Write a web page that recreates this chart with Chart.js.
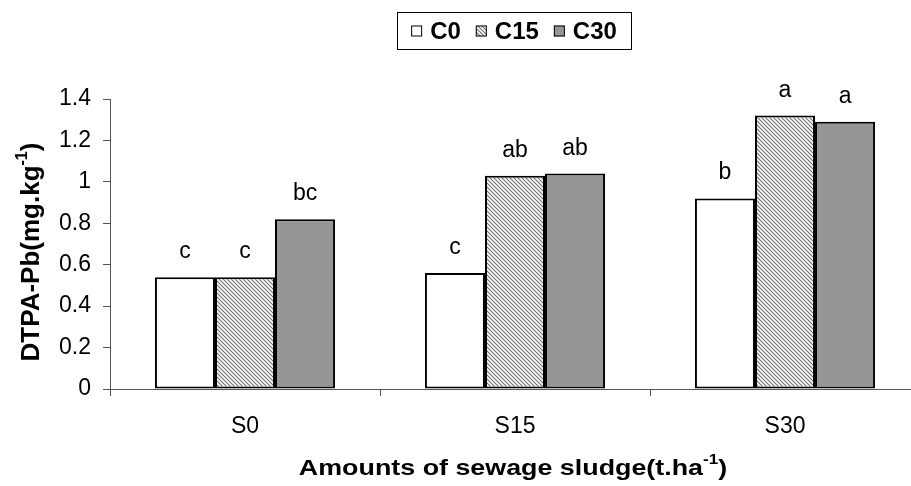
<!DOCTYPE html>
<html>
<head>
<meta charset="utf-8">
<script src="https://cdn.jsdelivr.net/npm/chart.js@4.4.1/dist/chart.umd.min.js"></script>
<style>
html,body{margin:0;padding:0;background:#fff;overflow:hidden;}
#wrap{position:relative;width:920px;height:486px;}
</style>
</head>
<body>
<div id="wrap"><canvas id="c" width="920" height="486"></canvas></div>
<script>
const categories = ['S0', 'S15', 'S30'];
const seriesNames = ['C0', 'C15', 'C30'];
const c0Values = [0.54, 0.56, 0.92];
const c15Values = [0.54, 1.03, 1.32];
const c30Values = [0.82, 1.04, 1.29];
const c0Letters = ['c', 'c', 'b'];
const c15Letters = ['c', 'ab', 'a'];
const c30Letters = ['bc', 'ab', 'a'];
const yTickLabels = ['0', '0.2', '0.4', '0.6', '0.8', '1', '1.2', '1.4'];
const yTitle = ['DTPA-Pb(mg.kg', '-1', ')'];
const xTitle = ['Amounts of sewage sludge(t.ha', '-1', ')'];

const FONT = '"Liberation Sans", Arial, sans-serif';

function hatch() {
  const s = 4;
  const cv = document.createElement('canvas');
  cv.width = s; cv.height = s;
  const g = cv.getContext('2d');
  g.fillStyle = '#ffffff';
  g.fillRect(0, 0, s, s);
  g.strokeStyle = '#707070';
  g.lineWidth = 1.1;
  g.beginPath();
  g.moveTo(-1, -1); g.lineTo(s + 1, s + 1);
  g.moveTo(-1, s - 1); g.lineTo(1, s + 1);
  g.moveTo(s - 1, -1); g.lineTo(s + 1, 1);
  g.stroke();
  return g.createPattern(cv, 'repeat');
}
const hatchPattern = hatch();
const fills = ['#ffffff', hatchPattern, '#969696'];
const letters = [c0Letters, c15Letters, c30Letters];

function drawSup(ctx, parts, size) {
  const mainFont = 'bold ' + size + 'px ' + FONT;
  const supFont = 'bold ' + Math.round(size * 0.62) + 'px ' + FONT;
  ctx.font = mainFont;
  const w1 = ctx.measureText(parts[0]).width;
  const w3 = ctx.measureText(parts[2]).width;
  ctx.font = supFont;
  const w2 = ctx.measureText(parts[1]).width;
  const total = w1 + w2 + w3;
  let x = -total / 2;
  ctx.textBaseline = 'middle';
  ctx.textAlign = 'left';
  ctx.font = mainFont;
  ctx.fillText(parts[0], x, 0); x += w1;
  ctx.font = supFont;
  ctx.fillText(parts[1], x, -size * 0.38); x += w2;
  ctx.font = mainFont;
  ctx.fillText(parts[2], x, 0);
}

const extras = {
  id: 'extras',
  afterDatasetsDraw(chart) {
    const ctx = chart.ctx;
    ctx.save();
    ctx.fillStyle = '#000';
    ctx.font = '23px ' + FONT;
    ctx.textAlign = 'center';
    ctx.textBaseline = 'alphabetic';
    chart.data.datasets.forEach((ds, di) => {
      const meta = chart.getDatasetMeta(di);
      meta.data.forEach((bar, i) => {
        ctx.fillText(letters[di][i], bar.x, bar.y - 19);
      });
    });
    ctx.save();
    ctx.translate(32, 252);
    ctx.rotate(-Math.PI / 2);
    drawSup(ctx, yTitle, 26);
    ctx.restore();
    ctx.save();
    ctx.translate(513, 469);
    ctx.scale(1.22, 1);
    drawSup(ctx, xTitle, 22);
    ctx.restore();
    const lf = 'bold 24px ' + FONT;
    ctx.font = lf;
    const sq = 11, gapT = 8, gapI = 15;
    let widths = seriesNames.map(n => ctx.measureText(n).width);
    let total = 0;
    widths.forEach((w, i) => { total += sq + gapT + w + (i < widths.length - 1 ? gapI : 0); });
    const bx0 = 397, bx1 = 631, by0 = 12, by1 = 49;
    ctx.strokeStyle = '#000';
    ctx.lineWidth = 1;
    ctx.strokeRect(bx0 + 0.5, by0 + 0.5, bx1 - bx0, by1 - by0);
    let x = (bx0 + bx1) / 2 - total / 2;
    const cy = (by0 + by1) / 2 + 0.5;
    seriesNames.forEach((n, i) => {
      ctx.fillStyle = fills[i];
      ctx.fillRect(x, cy - sq / 2, sq, sq);
      ctx.strokeStyle = '#000';
      ctx.lineWidth = 1;
      ctx.strokeRect(x + 0.5, cy - sq / 2 + 0.5, sq - 1, sq - 1);
      x += sq + gapT;
      ctx.fillStyle = '#000';
      ctx.font = lf;
      ctx.textAlign = 'left';
      ctx.textBaseline = 'middle';
      ctx.fillText(n, x, cy + 1);
      x += widths[i] + gapI;
    });
    ctx.restore();
  }
};

new Chart(document.getElementById('c'), {
  type: 'bar',
  data: {
    labels: categories,
    datasets: [
      { label: seriesNames[0], data: c0Values, backgroundColor: fills[0] },
      { label: seriesNames[1], data: c15Values, backgroundColor: fills[1] },
      { label: seriesNames[2], data: c30Values, backgroundColor: fills[2] }
    ]
  },
  options: {
    responsive: false,
    animation: false,
    devicePixelRatio: 1,
    layout: { padding: { top: 99, left: 0, right: 0, bottom: 0 } },
    datasets: {
      bar: {
        borderColor: '#000',
        borderWidth: 2,
        borderSkipped: false,
        categoryPercentage: 0.667,
        barPercentage: 1.0
      }
    },
    plugins: {
      legend: { display: false },
      tooltip: { enabled: false },
      title: { display: false }
    },
    scales: {
      x: {
        offset: true,
        grid: { display: true, drawOnChartArea: false, drawTicks: true, tickLength: 7, color: '#555', offset: true },
        border: { display: true, color: '#555', width: 1 },
        ticks: { color: '#000', font: { family: FONT, size: 23 }, padding: 17 },
        afterFit(s) { s.height = 97; }
      },
      y: {
        min: 0,
        max: 1.4,
        grid: { display: true, drawOnChartArea: false, drawTicks: true, tickLength: 7, color: '#555' },
        border: { display: true, color: '#555', width: 1 },
        ticks: {
          stepSize: 0.2,
          color: '#000',
          font: { family: FONT, size: 23 },
          padding: 12,
          callback: (v, i) => yTickLabels[i]
        },
        afterFit(s) { s.width = 110; }
      }
    }
  },
  plugins: [extras]
});
</script>
</body>
</html>
